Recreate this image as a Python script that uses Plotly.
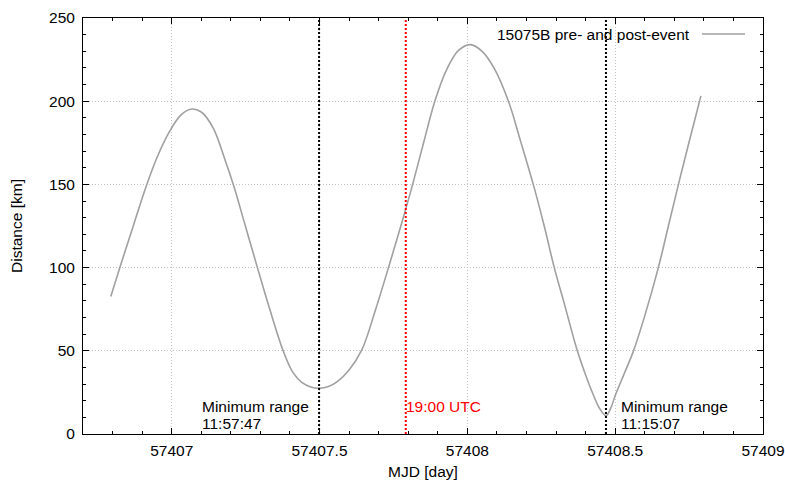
import plotly.graph_objects as go

# ---- data ----
mjd = [57406.794, 57406.830, 57406.870, 57406.910, 57406.950, 57406.990, 57407.030,
       57407.064, 57407.100, 57407.140, 57407.180, 57407.210, 57407.250, 57407.290,
       57407.330, 57407.377, 57407.410, 57407.440, 57407.470, 57407.500, 57407.530,
       57407.560, 57407.600, 57407.643, 57407.690, 57407.741, 57407.780, 57407.815,
       57407.852, 57407.890, 57407.930, 57407.970, 57408.010, 57408.050, 57408.090,
       57408.139, 57408.180, 57408.223, 57408.260, 57408.294, 57408.330, 57408.372,
       57408.400, 57408.425, 57408.447, 57408.469, 57408.485, 57408.500, 57408.530,
       57408.561, 57408.600, 57408.646, 57408.680, 57408.714, 57408.750, 57408.790]
distance = [82.6, 103.0, 125.0, 147.0, 166.0, 181.0, 191.5,
            195.2, 193.5, 184.0, 165.0, 149.0, 124.5, 100.0,
            76.0, 50.0, 37.0, 31.0, 28.3, 27.5, 28.5,
            31.5, 38.5, 50.5, 75.0, 104.6, 128.0, 150.0,
            175.0, 200.0, 219.0, 230.5, 234.0, 230.0, 220.0,
            200.0, 176.0, 150.0, 125.0, 100.0, 77.0, 50.0,
            35.5, 24.0, 15.5, 11.0, 15.5, 23.0, 36.0,
            49.5, 71.0, 100.0, 125.0, 150.0, 175.5, 203.2]

min_times = [57407.4985, 57408.4688]
min_labels = ["11:57:47", "11:15:07"]
event_time = [57407.7917]
event_label = "19:00 UTC"
series_name = "15075B pre- and post-event"

x_range = [57406.7, 57409.0]
y_range = [0, 250]
x_ticks = [57407, 57407.5, 57408, 57408.5, 57409]
x_ticktext = ["57407", "57407.5", "57408", "57408.5", "57409"]
y_ticks = [0, 50, 100, 150, 200, 250]

FONT = "Liberation Sans, Arial, sans-serif"
FS = 15.5

fig = go.Figure()
fig.add_trace(go.Scatter(
    x=mjd, y=distance, mode="lines", name=series_name,
    line=dict(color="#a0a0a0", width=1.6, shape="spline", smoothing=1.0),
    showlegend=False,
))

shapes = []
for t in min_times:
    shapes.append(dict(type="line", xref="x", yref="paper", x0=t, x1=t, y0=0, y1=1,
                       line=dict(color="black", width=2, dash="2px,2px")))
for t in event_time:
    shapes.append(dict(type="line", xref="x", yref="paper", x0=t, x1=t, y0=0, y1=1,
                       line=dict(color="#ff0000", width=2, dash="2px,2px")))
# legend sample line (gnuplot style: key text then line on the right)
shapes.append(dict(type="line", xref="paper", yref="paper", x0=0.9103, x1=0.9735,
                   y0=0.9615, y1=0.9615, line=dict(color="#a0a0a0", width=1.6)))

annotations = []
y1p = (434 - 406.5) / 416
y2p = (434 - 423) / 416
txt = dict(family=FONT, size=FS, color="black")
annotations.append(dict(x=min_times[0], y=y1p, xref="x", yref="paper", text="Minimum range",
                        xanchor="left", yanchor="middle", showarrow=False, xshift=-119, font=txt))
annotations.append(dict(x=min_times[0], y=y2p, xref="x", yref="paper", text=min_labels[0],
                        xanchor="left", yanchor="middle", showarrow=False, xshift=-119, font=txt))
annotations.append(dict(x=min_times[1], y=y1p, xref="x", yref="paper", text="Minimum range",
                        xanchor="left", yanchor="middle", showarrow=False, xshift=13, font=txt))
annotations.append(dict(x=min_times[1], y=y2p, xref="x", yref="paper", text=min_labels[1],
                        xanchor="left", yanchor="middle", showarrow=False, xshift=13, font=txt))
annotations.append(dict(x=event_time[0], y=y1p, xref="x", yref="paper", text=event_label,
                        xanchor="left", yanchor="middle", showarrow=False, xshift=-2,
                        font=dict(family=FONT, size=FS, color="#ff0000")))
annotations.append(dict(x=0.8956, y=0.9615, xref="paper", yref="paper", text=series_name,
                        xanchor="right", yanchor="middle", showarrow=False, font=txt))

axis_common = dict(
    showline=True, linecolor="black", linewidth=1, mirror="ticks",
    ticks="inside", ticklen=6, tickcolor="black", tickwidth=1,
    showgrid=True, gridcolor="#c4c4c4", griddash="1px,2px", gridwidth=1,
    zeroline=False, automargin=False,
    tickfont=dict(family=FONT, size=FS, color="black"),
)

fig.update_layout(
    width=785, height=482,
    margin=dict(l=83, r=22, t=18, b=48),
    paper_bgcolor="white", plot_bgcolor="white",
    font=dict(family=FONT, size=FS, color="black"),
    shapes=shapes, annotations=annotations,
    xaxis=dict(range=x_range, tickvals=x_ticks, ticktext=x_ticktext,
               title=dict(text="MJD [day]", standoff=8, font=dict(family=FONT, size=FS)),
               minor=dict(dtick=0.1, ticks="inside", ticklen=3, tickcolor="black", showgrid=False),
               ticklabelstandoff=2,
               **axis_common),
    yaxis=dict(range=y_range, tickvals=y_ticks,
               title=dict(text="Distance [km]", standoff=22, font=dict(family=FONT, size=FS)),
               minor=dict(dtick=10, ticks="inside", ticklen=3, tickcolor="black", showgrid=False),
               ticklabelstandoff=4,
               **axis_common),
)

fig.write_html("out.html", config={"displayModeBar": False},
               post_script="document.body.style.margin='0px';document.body.style.overflow='hidden';")
